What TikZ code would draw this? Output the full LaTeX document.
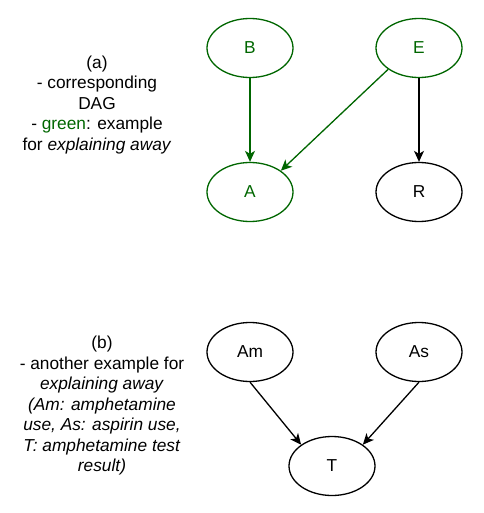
\documentclass[tikz,border=0pt]{standalone}
\usepackage{fontspec}
\setmainfont{Liberation Sans}
\usetikzlibrary{shapes.geometric,arrows.meta}
\definecolor{dgreen}{HTML}{006600}
\tikzset{
  ev/.style={ellipse, draw, line width=1.3pt, minimum width=86pt, minimum height=59pt, inner sep=0pt, font=\fontsize{17.3pt}{20.5pt}\selectfont},
  gev/.style={ev, draw=dgreen, text=dgreen},
  arr/.style={line width=1.3pt, -{Stealth[length=11pt,width=10pt,inset=3pt]}},
  garr/.style={arr, draw=dgreen, fill=dgreen},
  lbl/.style={align=center, font=\fontsize{17.3pt}{20.5pt}\selectfont, inner sep=0pt}
}
\begin{document}
\begin{tikzpicture}[x=1pt,y=-1pt]
\useasboundingbox (0,0) rectangle (483,513);
\node[gev] (B) at (250,48) {B};
\node[gev] (E) at (419,48) {E};
\node[gev] (A) at (250,192) {A};
\node[ev] (R) at (419,192) {R};
\draw[garr] (B) -- (A);
\draw[garr] (E.south west) -- (A.north east);
\draw[arr] (E) -- (R);
\node[lbl] (ta) at (97,105) {(a)\\- corresponding\\DAG\\- \textcolor{dgreen}{green}: example\\for \textit{explaining away}};
\node[ev] (Am) at (250,352) {Am};
\node[ev] (As) at (419,352) {As};
\node[ev] (T) at (332,466) {T};
\draw[arr] (Am.south) -- (T.north west);
\draw[arr] (As.south) -- (T.north east);
\node[lbl] (tb) at (102,406) {(b)\\- another example for\\\textit{explaining away}\\\textit{(Am: amphetamine}\\\textit{use, As: aspirin use,}\\\textit{T: amphetamine test}\\\textit{result)}};
\end{tikzpicture}
\end{document}
